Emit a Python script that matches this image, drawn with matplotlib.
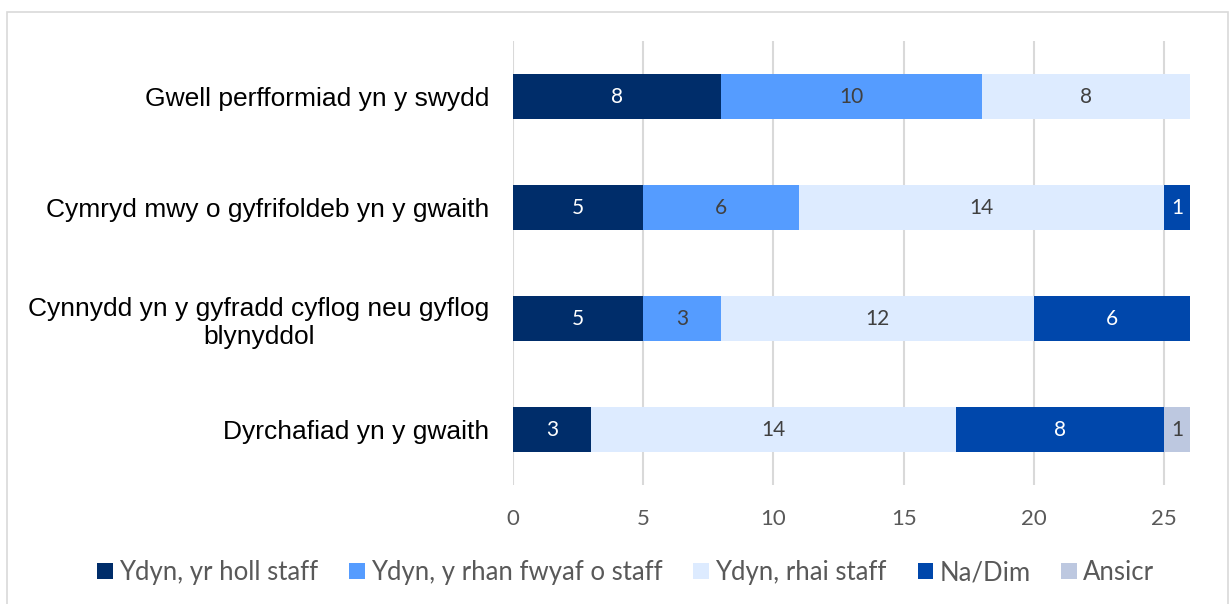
import matplotlib.pyplot as plt
import matplotlib.patches as mpatches
import numpy as np

categories = [
    "Gwell perfformiad yn y swydd",
    "Cymryd mwy o gyfrifoldeb yn y gwaith",
    "Cynnydd yn y gyfradd cyflog neu gyflog\nblynyddol",
    "Dyrchafiad yn y gwaith",
]
series_names = [
    "Ydyn, yr holl staff",
    "Ydyn, y rhan fwyaf o staff",
    "Ydyn, rhai staff",
    "Na/Dim",
    "Ansicr",
]
all_staff = [8, 5, 5, 3]
most_staff = [10, 6, 3, 0]
some_staff = [8, 14, 12, 14]
no_none = [0, 1, 6, 8]
unsure = [0, 0, 0, 1]
x_ticks = [0, 5, 10, 15, 20, 25]

colors = ["#002D6A", "#559CFF", "#DDEBFF", "#0047AB", "#BDC8E0"]
label_colors = ["white", "#404040", "#404040", "white", "#404040"]

fig = plt.figure(figsize=(12.32, 6.04), dpi=100)
ax = fig.add_axes([0.4164, 0.197, 0.966 - 0.4164, 0.932 - 0.197])

# light frame round the chart area, like the Excel export
fig.patches.append(mpatches.Rectangle((0.006, -0.01), 0.991, 0.99, transform=fig.transFigure,
                                      fill=False, edgecolor="#D9D9D9", lw=1.2))

y = np.arange(len(categories))
left = np.zeros(len(categories))
for vals, name, col, lc in zip([all_staff, most_staff, some_staff, no_none, unsure],
                               series_names, colors, label_colors):
    vals = np.array(vals, dtype=float)
    bars = ax.barh(y, vals, left=left, height=0.41, color=col, label=name, zorder=3)
    for b, v in zip(bars, vals):
        if v > 0:
            ax.text(b.get_x() + b.get_width() / 2, b.get_y() + b.get_height() / 2, f"{int(v)}",
                    ha="center", va="center", color=lc, fontsize=15, family="Lato", zorder=4)
    left += vals

ax.set_ylim(len(categories) - 0.5, -0.5)
ax.set_xlim(0, 26)
ax.set_xticks(x_ticks)
ax.set_yticks(y)
ax.set_yticklabels(categories, fontsize=19, family="Liberation Sans", color="black",
                   ha="right", multialignment="center")
ax.tick_params(axis="y", length=0, pad=17)
ax.tick_params(axis="x", length=0, pad=17, labelsize=16, labelcolor="#595959")
for lab in ax.get_xticklabels():
    lab.set_family("Lato")
ax.grid(axis="x", color="#D9D9D9", lw=1.5, zorder=0)
for s in ax.spines.values():
    s.set_visible(False)

leg = fig.legend(loc="center", bbox_to_anchor=(0.508, 0.052), ncol=5, frameon=False,
                 handlelength=0.6, handleheight=0.6, handletextpad=0.25, columnspacing=1.2,
                 prop={"family": "Lato", "size": 18.5})
for t in leg.get_texts():
    t.set_color("#595959")

fig.savefig("out.png", dpi=100)
